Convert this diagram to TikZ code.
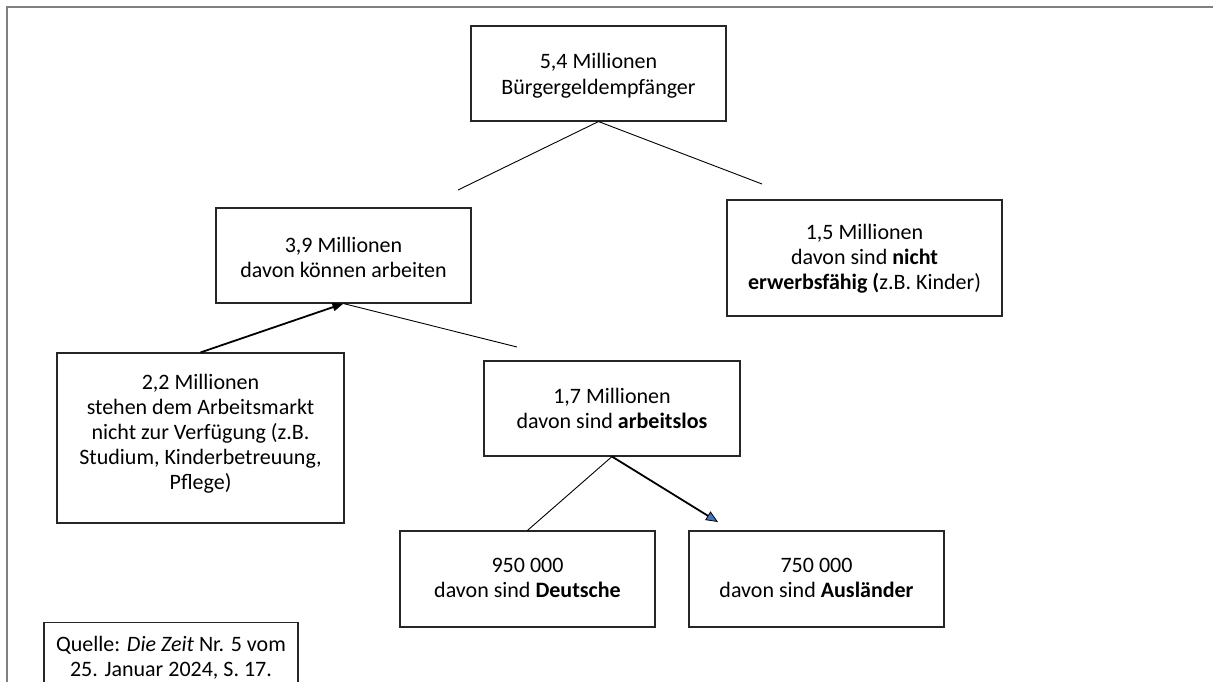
\documentclass[tikz,border=0pt]{standalone}
\usepackage{fontspec}
\setmainfont{Carlito}
\usetikzlibrary{arrows.meta,calc}
\definecolor{framegray}{HTML}{808080}
\definecolor{tipblue}{HTML}{4472C4}
\begin{document}
\begin{tikzpicture}[x=1pt,y=-1pt,
  box/.style={draw=black!85, line width=1.1pt, inner sep=0pt, rectangle},
  txt/.style={align=center, inner sep=0pt, font=\fontsize{22}{25}\selectfont},
  thinline/.style={line width=0.9pt, draw=black},
  arrline/.style={line width=1.8pt, draw=black}]
\useasboundingbox (0,0) rectangle (1213,682);
\fill[white] (0,0) rectangle (1213,682);
% frame
\draw[framegray, line width=1.4pt] (7,682) -- (7,7) -- (1213,7);
% boxes
\node[box, minimum width=255pt, minimum height=95pt] (top) at (598.5,73.5) {};
\node[txt, font=\fontsize{22}{26}\selectfont] (toptxt) at ([yshift=-2.5pt]top.center) {5,4 Millionen\\Bürgergeldempfänger};
\node[box, minimum width=255pt, minimum height=95pt] (b39) at (343.5,255.5) {};
\node[txt] (b39txt) at ([yshift=-2pt]b39.center) {3,9 Millionen\\davon können arbeiten};
\node[box, minimum width=275pt, minimum height=116pt] (b15) at (864.5,258) {};
\node[txt] (b15txt) at ([yshift=-1pt]b15.center) {1,5 Millionen\\davon sind \textbf{nicht}\\\textbf{erwerbsfähig (}z.B. Kinder)};
\node[box, minimum width=287pt, minimum height=170pt] (b22) at (200.5,438) {};
\node[txt] (b22txt) at ([yshift=4pt]b22.center) {2,2 Millionen\\stehen dem Arbeitsmarkt\\nicht zur Verfügung (z.B.\\Studium, Kinderbetreuung,\\Pflege)};
\node[box, minimum width=256pt, minimum height=95pt] (b17) at (612,408.5) {};
\node[txt] (b17txt) at (b17.center) {1,7 Millionen\\davon sind \textbf{arbeitslos}};
\node[box, minimum width=255pt, minimum height=96pt] (b950) at (527.5,579) {};
\node[txt] (b950txt) at ([yshift=1pt]b950.center) {950 000\\davon sind \textbf{Deutsche}};
\node[box, minimum width=255pt, minimum height=96pt] (b750) at (816.5,579) {};
\node[txt] (b750txt) at ([yshift=1pt]b750.center) {750 000\\davon sind \textbf{Ausländer}};
\node[box, minimum width=254pt, minimum height=90pt, anchor=north] (quelle) at (171,622) {};
\node[txt] (quelletxt) at (171,658) {Quelle: \textit{Die Zeit} Nr. 5 vom\\25. Januar 2024, S. 17.};
% free ends
\coordinate (c1) at (458,190);
\coordinate (c2) at (762,184);
\coordinate (c3) at (517,347);
\coordinate (c4) at (718,522);
% connectors
\draw[thinline] (top.south) -- (c1);
\draw[thinline] (top.south) -- (c2);
\draw[arrline, -{Triangle[length=11pt,width=8pt]}] (b22.north) -- (b39.south);
\draw[thinline] (b39.south) -- (c3);
\draw[thinline] (b17.south) -- ([xshift=128pt]b950.north west);
\draw[arrline, -{Triangle[length=12pt,width=10pt,fill=tipblue,line width=0.8pt]}] (b17.south) -- (c4);
\end{tikzpicture}
\end{document}
